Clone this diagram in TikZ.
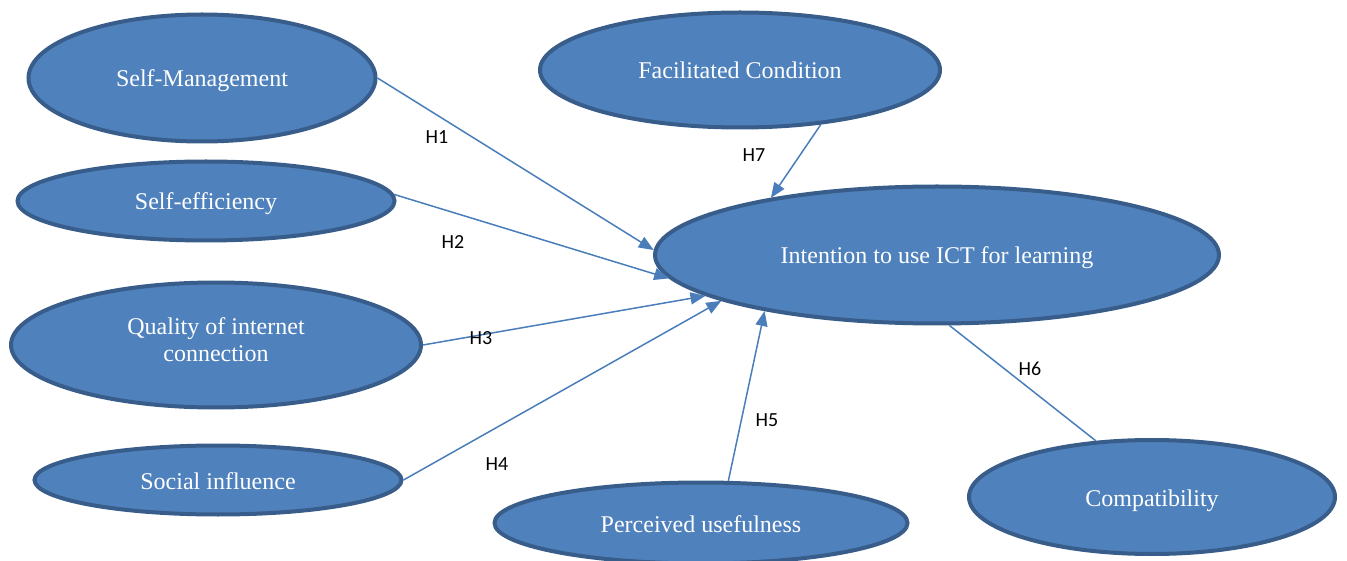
\documentclass[tikz,border=0pt]{standalone}
\usepackage{fontspec}
\setmainfont{Liberation Serif}
\newfontfamily\labelfont{Carlito}
\usetikzlibrary{shapes.geometric,arrows.meta}
\definecolor{boxblue}{HTML}{4F81BD}
\definecolor{rimblue}{HTML}{385D8A}
\definecolor{lineblue}{HTML}{4A7EBB}

\begin{document}
\begin{tikzpicture}[x=1pt, y=-1pt,
    construct/.style={ellipse, draw=rimblue, line width=4pt, fill=boxblue, text=white, inner sep=0pt, align=center, text height=18pt, text depth=0pt, font=\fontsize{24}{27}\selectfont},
    hyp/.style={draw=lineblue, line width=1.5pt, -{Triangle[length=15pt,width=12pt]}},
    hlabel/.style={font=\labelfont\fontsize{20}{24}\selectfont}]
    \useasboundingbox (0, 0) rectangle (1347, 561);

    % Nodes
    \node[construct, minimum width=347pt, minimum height=127pt] at (202, 78) (sm) {Self-Management};
    \node[construct, minimum width=377pt, minimum height=79pt] at (206, 201) (se) {Self-efficiency};
    \node[construct, minimum width=410pt, minimum height=125pt, text height=45pt, text depth=11pt] at (216, 345) (qi) {Quality of internet\\connection};
    \node[construct, minimum width=367pt, minimum height=69pt] at (218, 480) (si) {Social influence};
    \node[construct, minimum width=400pt, minimum height=115pt] at (740, 70) (fc) {Facilitated Condition};
    \node[construct, minimum width=564pt, minimum height=137pt] at (937, 255) (int) {Intention to use ICT for learning};
    \node[construct, minimum width=413pt, minimum height=81pt] at (701, 523) (pu) {Perceived usefulness};
    \node[construct, minimum width=366pt, minimum height=114pt] at (1152, 497) (cp) {Compatibility};

    % Hypotheses
    \draw[hyp] (sm.east) -- (int.179);
    \draw[hyp] (se.2) -- (int.185);
    \draw[hyp] (qi.east) -- (int.190);
    \draw[hyp] (si.east) -- (int.192);
    \draw[hyp] (pu.57) -- (int.198);
    \draw[hyp] (fc.326) -- (int.161);
    \draw[draw=lineblue, line width=1.5pt] (int.280) -- (cp.135);

    \node[hlabel] at (437, 137) (h1) {H1};
    \node[hlabel] at (453, 242) (h2) {H2};
    \node[hlabel] at (481, 338) (h3) {H3};
    \node[hlabel] at (497, 464) (h4) {H4};
    \node[hlabel] at (767, 420) (h5) {H5};
    \node[hlabel] at (1030, 369) (h6) {H6};
    \node[hlabel] at (754, 155) (h7) {H7};

\end{tikzpicture}
\end{document}
